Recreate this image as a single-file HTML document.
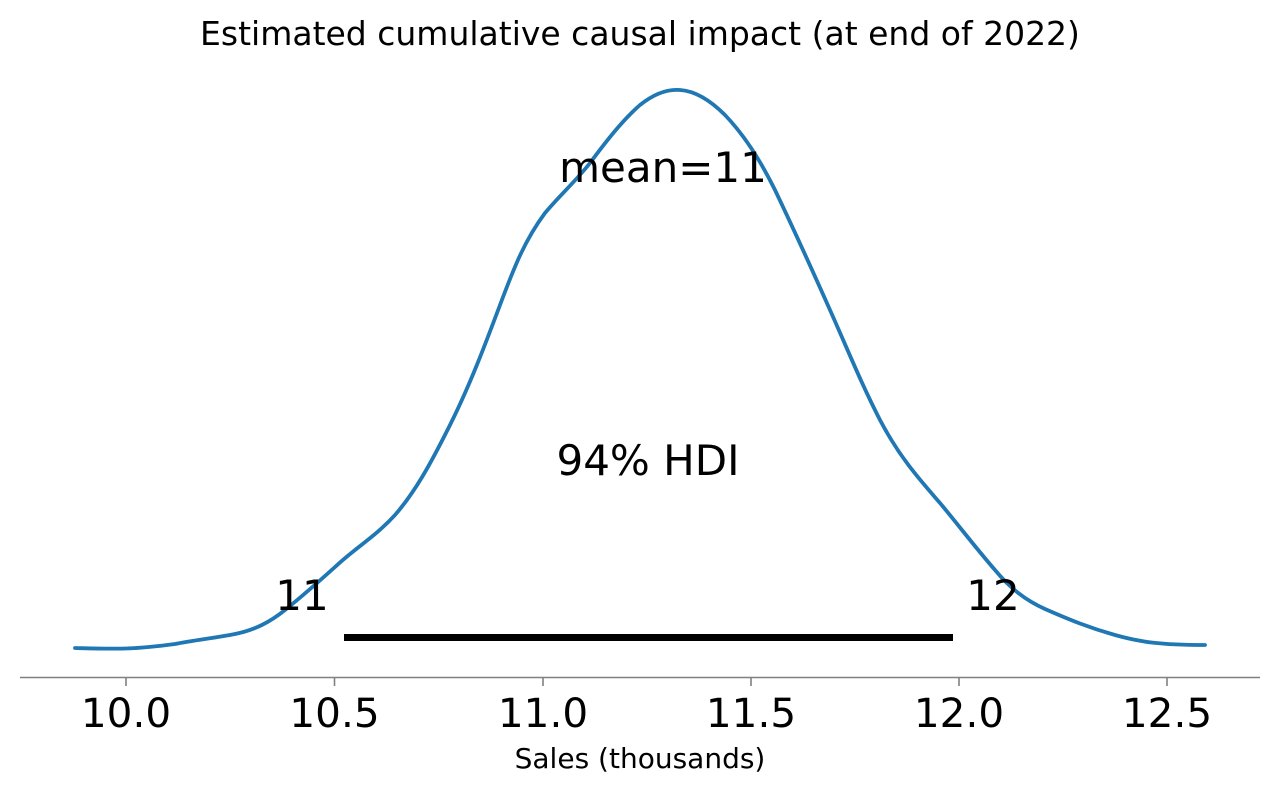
<!DOCTYPE html>
<html><head><meta charset="utf-8"><style>
html,body{margin:0;padding:0;background:#fff;}
svg{display:block;}
text{font-family:"DejaVu Sans","Liberation Sans",sans-serif;fill:#000;}
</style></head><body>
<svg width="1280" height="793" viewBox="0 0 1280 793" xmlns="http://www.w3.org/2000/svg">
<rect width="1280" height="793" fill="#fff"/>
<text x="640" y="45" font-size="33" text-anchor="middle">Estimated cumulative causal impact (at end of 2022)</text>
<path d="M75,648 C95,648.5 110,649 125,648.5 C145,648 160,646 175,644 C195,640 215,638 235,634 C255,630 270,622 285,610 C300,598 315,585 335,567 C355,548 375,537 395,515 C415,492 430,465 450,425 C470,385 485,345 500,305 C515,265 525,240 545,213 C560,195 575,182 590,163 C610,136 625,118 640,105 C655,93 668,89 680,90 C695,91 710,100 725,115 C745,136 760,160 775,190 C795,232 810,265 830,310 C850,355 862,385 880,420 C900,458 920,480 940,503 C960,527 975,547 995,570 C1010,588 1025,600 1045,609 C1070,620 1090,628 1115,635 C1140,642 1160,645 1205,645" fill="none" stroke="#1f77b4" stroke-width="3.8" stroke-linejoin="round" stroke-linecap="round"/>
<line x1="344" y1="637.5" x2="953" y2="637.5" stroke="#000" stroke-width="7"/>
<text x="663" y="182" font-size="42" text-anchor="middle">mean=11</text>
<text x="648" y="475" font-size="42" text-anchor="middle">94% HDI</text>
<text x="302" y="610" font-size="42" text-anchor="middle">11</text>
<text x="993" y="610" font-size="42" text-anchor="middle">12</text>
<line x1="20" y1="677.5" x2="1260" y2="677.5" stroke="#808080" stroke-width="1.6"/>
<g stroke="#808080" stroke-width="1.6">
<line x1="126" y1="677" x2="126" y2="686"/>
<line x1="334.5" y1="677" x2="334.5" y2="686"/>
<line x1="543" y1="677" x2="543" y2="686"/>
<line x1="751" y1="677" x2="751" y2="686"/>
<line x1="959" y1="677" x2="959" y2="686"/>
<line x1="1167" y1="677" x2="1167" y2="686"/>
</g>
<g font-size="40.5" text-anchor="middle">
<text x="126" y="727">10.0</text>
<text x="334.5" y="727">10.5</text>
<text x="543" y="727">11.0</text>
<text x="751" y="727">11.5</text>
<text x="959" y="727">12.0</text>
<text x="1167" y="727">12.5</text>
</g>
<text x="640" y="768" font-size="28" text-anchor="middle">Sales (thousands)</text>
</svg>
</body></html>
